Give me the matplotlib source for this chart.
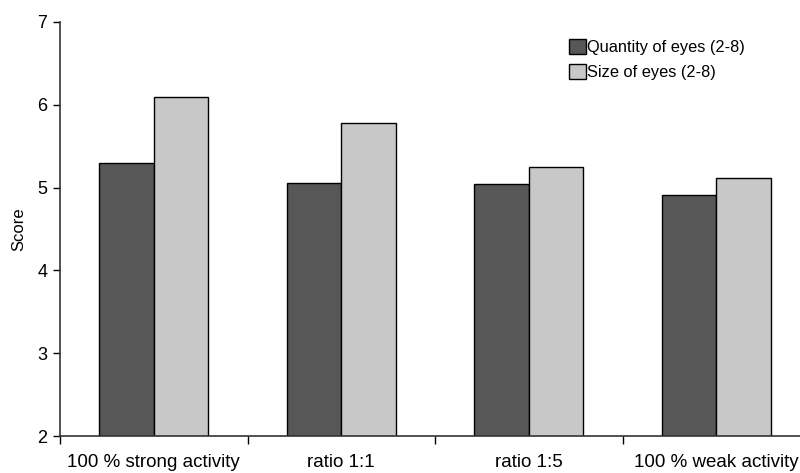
import matplotlib
matplotlib.use("Agg")
import matplotlib.pyplot as plt
import numpy as np

categories = ["100 % strong activity", "ratio 1:1", "ratio 1:5", "100 % weak activity"]
quantity = [5.30, 5.05, 5.04, 4.91]
size = [6.09, 5.78, 5.25, 5.12]
series_names = ["Quantity of eyes (2-8)", "Size of eyes (2-8)"]

plt.rcParams["font.family"] = ["Liberation Sans", "DejaVu Sans"]

fig = plt.figure(figsize=(8, 4.73), dpi=100)
# axes run past the right edge, as in the reference
ax = fig.add_axes([60 / 800, 37 / 473, 750 / 800, 414 / 473])

x = np.arange(len(categories)) + 0.5
w = 0.29
ax.bar(x - w / 2, quantity, w, bottom=0, color="#575757", edgecolor="black",
       linewidth=1, label=series_names[0])
ax.bar(x + w / 2, size, w, bottom=0, color="#c8c8c8", edgecolor="black",
       linewidth=1, label=series_names[1])

ax.set_xlim(0, 4)
ax.set_ylim(2, 7)
ax.set_yticks([2, 3, 4, 5, 6, 7])
ax.set_xticks(np.arange(0, 4))
ax.set_xticklabels([])
ax.set_xticks(x, minor=True)
ax.set_xticklabels(categories, minor=True)
ax.tick_params(axis="x", which="minor", length=0, pad=13, labelsize=13.5)
ax.tick_params(axis="x", which="major", length=6, width=1, direction="out")
ax.tick_params(axis="y", length=5, width=1, direction="out", labelsize=13, pad=4)
ax.set_ylabel("Score", fontsize=12, labelpad=8)

for s in ["top", "right"]:
    ax.spines[s].set_visible(False)
for s in ["left", "bottom"]:
    ax.spines[s].set_color("#333333")
    ax.spines[s].set_linewidth(1.2)

ax.legend(loc="upper left", bbox_to_anchor=(0.6705, 0.975), frameon=False,
          fontsize=11.8, handlelength=1.0, handleheight=1.0, handletextpad=0.05,
          labelspacing=0.55, borderaxespad=0)

fig.savefig("out.png", dpi=100)
